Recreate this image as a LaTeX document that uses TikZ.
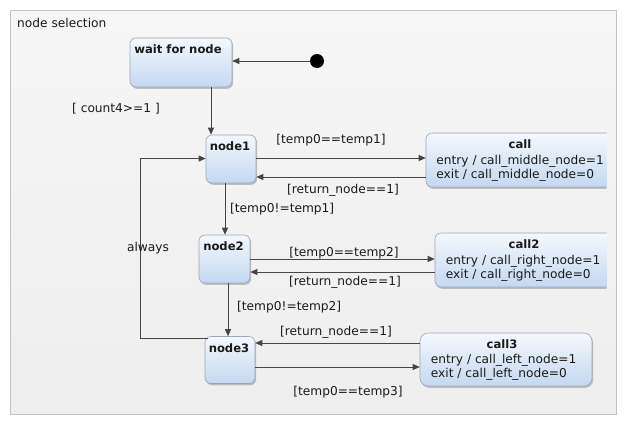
\documentclass[tikz,border=0pt]{standalone}
\usepackage{fontspec}
\setmainfont{DejaVu Sans}
\usetikzlibrary{arrows.meta,shadows,calc}
\definecolor{frametop}{HTML}{F6F6F6}
\definecolor{framebot}{HTML}{EEEEEE}
\definecolor{frameline}{HTML}{C2C2C2}
\definecolor{statetop}{HTML}{F4F8FD}
\definecolor{statebot}{HTML}{C4D8F0}
\definecolor{stateborder}{HTML}{9AA6B6}
\definecolor{linec}{HTML}{454545}
\definecolor{txt}{HTML}{1A1A1A}
\begin{document}
\begin{tikzpicture}[x=1pt,y=-1pt,
  state/.style={draw=stateborder, line width=0.6pt, rounded corners=6pt,
    top color=statetop, bottom color=statebot, inner sep=0pt,
    drop shadow={shadow xshift=1.2pt, shadow yshift=-1.8pt, opacity=0.4, fill=black!55}},
  ttl/.style={font=\fontsize{11.6}{13}\selectfont\bfseries, inner sep=0pt, text=txt},
  body/.style={font=\fontsize{12.2}{13.5}\selectfont, inner sep=0pt, text=txt},
  lbl/.style={font=\fontsize{12.2}{13.5}\selectfont, inner sep=0pt, text=txt},
  arr/.style={draw=linec, line width=0.8pt, -{Triangle[length=7pt,width=6pt]}},
  plain/.style={draw=linec, line width=0.8pt}]
\useasboundingbox (0,0) rectangle (626,426);
\fill[white] (0,0) rectangle (626,426);
% frame
\path[draw=frameline, line width=0.8pt, top color=frametop, bottom color=framebot] (10.5,10.5) rectangle (616,414.5);
\node[lbl, anchor=base west] (title) at (17,27) {node selection};

% states
\node[state, minimum width=102pt, minimum height=49pt] (w) at (181,62.5) {};
\node[ttl, anchor=base] (wt) at ($(w.north)+(-3,16)$) {wait for node};
\node[state, minimum width=50pt, minimum height=48pt] (n1) at (231,159) {};
\node[ttl, anchor=base] (n1t) at ($(n1.north)+(-1,16)$) {node1};
\node[state, minimum width=51pt, minimum height=48pt] (n2) at (224.5,259) {};
\node[ttl, anchor=base] (n2t) at ($(n2.north)+(-1,16)$) {node2};
\node[state, minimum width=50pt, minimum height=47pt] (n3) at (230,360) {};
\node[ttl, anchor=base] (n3t) at ($(n3.north)+(-1,16)$) {node3};

\begin{scope}
\clip (0,0) rectangle (606.5,426);
\node[state, minimum width=190pt, minimum height=54pt] (c1) at (521,160) {};
\node[state, minimum width=178pt, minimum height=54pt] (c2) at (524,260) {};
\end{scope}
\node[ttl, anchor=base] (c1t) at ($(c1.north)+(-1,15.5)$) {call};
\node[body, anchor=base west] (c1b) at ($(c1.north west)+(10.5,32)$)
  {\begin{tabular}[t]{@{}l@{}}entry / call\_middle\_node=1\\exit / call\_middle\_node=0\end{tabular}};
\node[ttl, anchor=base] (c2t) at ($(c2.north)+(0,15.5)$) {call2};
\node[body, anchor=base west] (c2b) at ($(c2.north west)+(11,32)$)
  {\begin{tabular}[t]{@{}l@{}}entry / call\_right\_node=1\\exit / call\_right\_node=0\end{tabular}};
\node[state, rounded corners=8pt, minimum width=172pt, minimum height=53pt] (c3) at (506,359.5) {};
\node[ttl, anchor=base] (c3t) at ($(c3.north)+(-4,15.5)$) {call3};
\node[body, anchor=base west] (c3b) at ($(c3.north west)+(11,31)$)
  {\begin{tabular}[t]{@{}l@{}}entry / call\_left\_node=1\\exit / call\_left\_node=0\end{tabular}};

% initial
\node[circle, fill=black, minimum size=14pt, inner sep=0pt] (init) at (317,61) {};
\draw[arr] (init.west) -- (w.east |- init.west);

% transitions
\draw[arr] (w.south -| 211,0) -- (n1.north -| 211,0);
\node[lbl] (l0) at (116,109) {[ count4>=1 ]};

\draw[arr] (n1.east |- 0,158) -- (c1.west |- 0,158);
\node[lbl] (l1) at (331,140) {[temp0==temp1]};
\draw[arr] (c1.west |- 0,177) -- (n1.east |- 0,177);
\node[lbl] (l2) at (343,190) {[return\_node==1]};

\draw[arr] (n1.south -| 225,0) -- (n2.north -| 225,0);
\node[lbl, anchor=west] (l3) at (230,209) {[temp0!=temp1]};

\draw[arr] (n2.east |- 0,259) -- (c2.west |- 0,259);
\node[lbl] (l4) at (344,253) {[temp0==temp2]};
\draw[arr] (c2.west |- 0,272) -- (n2.east |- 0,272);
\node[lbl] (l5) at (345,282) {[return\_node==1]};

\draw[arr] (n2.south -| 228,0) -- (n3.north -| 228,0);
\node[lbl, anchor=west] (l6) at (237,307) {[temp0!=temp2]};

\draw[arr] (c3.west |- 0,343) -- (n3.east |- 0,343);
\node[lbl] (l7) at (336,332) {[return\_node==1]};
\draw[arr] (n3.east |- 0,367) -- (c3.west |- 0,367);
\node[lbl] (l8) at (348,392) {[temp0==temp3]};

% always loop
\coordinate (a1) at (140,338.5);
\coordinate (a2) at (140,158.5);
\draw[arr] ($(n3.west |- a1)+(3,0)$) -- (a1) -- (a2) -- (n1.west |- a2);
\node[lbl] (l9) at (148,248) {always};
\end{tikzpicture}
\end{document}
